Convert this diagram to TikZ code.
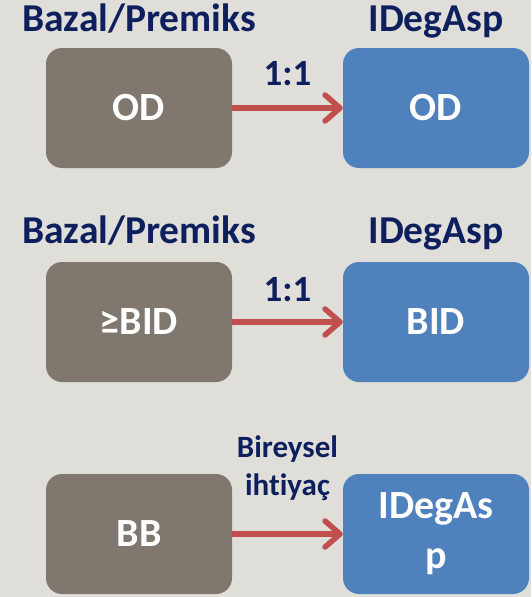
\documentclass[tikz,border=0pt]{standalone}
\usepackage{fontspec}
\setmainfont{Carlito}[Ligatures=NoCommon]
\usetikzlibrary{arrows.meta}
\definecolor{paper}{RGB}{224,222,217}
\definecolor{basalgray}{RGB}{128,119,110}
\definecolor{degblue}{RGB}{79,129,189}
\definecolor{arrowred}{RGB}{192,80,77}
\definecolor{navy}{RGB}{14,31,94}

\begin{document}
\begin{tikzpicture}[x=1pt,y=-1pt,
  box/.style={rounded corners=16pt, minimum width=186pt, minimum height=120pt, inner sep=0pt,
    text=white, align=center, font=\fontsize{40}{50}\selectfont\bfseries},
  basal/.style={box, fill=basalgray},
  degasp/.style={box, fill=degblue},
  head/.style={text=navy, anchor=base, inner sep=0pt, font=\fontsize{39.5}{44}\selectfont\bfseries},
  ratio/.style={text=navy, inner sep=0pt, align=center, font=\fontsize{37}{40}\selectfont\bfseries},
  need/.style={text=navy, inner sep=0pt, align=center, font=\fontsize{31}{38}\selectfont\bfseries},
  arr/.style={arrowred, line width=5.5pt, -{Straight Barb[length=15pt,width=26pt,round]}}]
\fill[paper] (0,0) rectangle (531,597);
\useasboundingbox (0,0) rectangle (531,597);

\node[head] (h1) at (139,31) {Bazal/Premiks};
\node[head] (h2) at (436,31) {IDegAsp};
\node[basal] (od1) at (139,108) {OD};
\node[degasp] (od2) at (436,108) {OD};
\draw[arr] (od1.east) -- (od2.west) node[ratio, midway, yshift=34pt] (r1) {1:1};

\node[head] (h3) at (139,243) {Bazal/Premiks};
\node[head] (h4) at (436,243) {IDegAsp};
\node[basal] (bid1) at (139,322) {≥BID};
\node[degasp] (bid2) at (436,322) {BID};
\draw[arr] (bid1.east) -- (bid2.west) node[ratio, midway, yshift=32pt] (r2) {1:1};

\node[basal] (bb) at (139,534) {BB};
\node[degasp] (ideg) at (436,534) {IDegAs\\p};
\draw[arr] (bb.east) -- (ideg.west) node[need, midway, yshift=66pt] (ind) {Bireysel\\ihtiyaç};
\end{tikzpicture}
\end{document}
